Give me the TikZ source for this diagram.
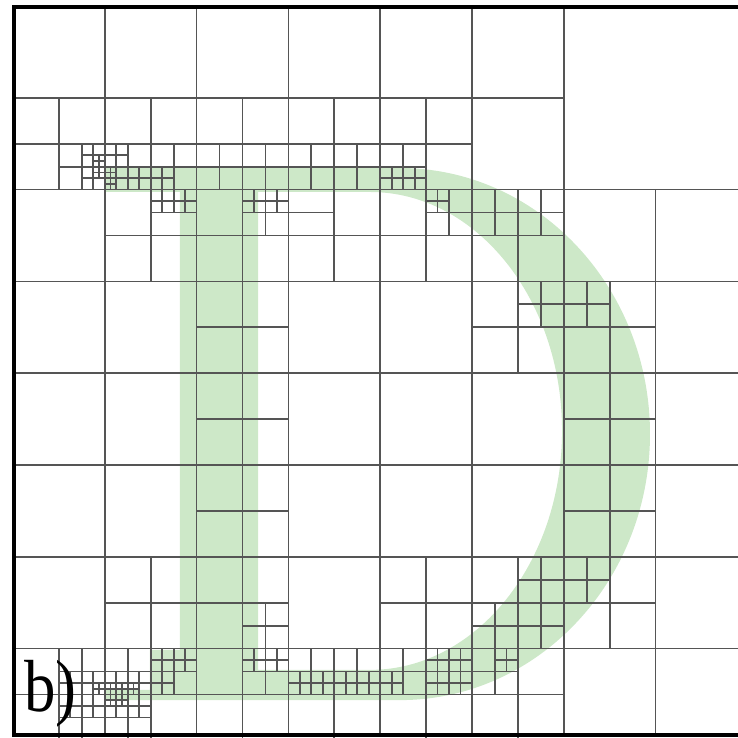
\documentclass[tikz,border=0pt]{standalone}
\usepackage{fontspec}
\setmainfont{Liberation Serif}
\definecolor{glyphgreen}{HTML}{CDE8C8}
\definecolor{cellline}{HTML}{555555}

\begin{document}
\begin{tikzpicture}[
  x=1.836cm, y=-1.836cm,
  cell/.style={draw=cellline, line width=1pt},
  glyph/.style={fill=glyphgreen, even odd rule},
  frame/.style={draw=black, line width=2.4pt},
  caption/.style={font=\fontsize{42}{42}\selectfont, inner sep=0pt, anchor=base west}
]
\useasboundingbox (-0.1416,-0.0654) rectangle (7.887,7.974);

% the letter D
\fill[glyph] (1.0,1.765) -- (4.216,1.765)
    arc[start angle=-90, end angle=90, x radius=2.723, y radius=2.898]
    -- (1.0,7.56) -- (1.0,7.45) -- (1.49,7.45) -- (1.49,7.015)
    -- (1.819,7.015) -- (1.819,2.026) -- (1.0,2.026) -- cycle
  (2.669,2.026) -- (3.889,2.026)
    arc[start angle=-90, end angle=90, x radius=2.092, y radius=2.603]
    -- (2.669,7.233) -- cycle;

% coarse grid, top right block left whole
\foreach \c in {1,...,6} \draw[cell] (\c,0) -- (\c,7.94);
\draw[cell] (7,2) -- (7,7.94);
\draw[cell] (0,1) -- (6,1);
\foreach \r in {2,...,7} \draw[cell] (0,\r) -- (8,\r);

% level 3 splits
\foreach \x/\y in {0/1,1/1,2/1,3/1,4/1, 1/2,2/2,3/2,4/2,5/2, 2/3,5/3,6/3,
    2/4,6/4, 2/5,6/5, 1/6,2/6,4/6,5/6,6/6, 0/7,1/7,2/7,3/7,4/7,5/7}
  \draw[cell] (\x+0.5,\y) -- ++(0,1) (\x,\y+0.5) -- ++(1,0);

% level 4 splits
\foreach \x/\y in {0.5/1.5,1/1.5,1.5/1.5,2/1.5,2.5/1.5,3/1.5,3.5/1.5,4/1.5,
    2.5/2,4.5/2,5/2,5.5/2, 5.5/3,6/3,
    5.5/6,6/6,2.5/6.5,5/6.5,5.5/6.5,
    0.5/7,0.5/7.5,1/7,1.5/7,1/7.5,2.5/7,3/7,3.5/7,4/7,4.5/7,5/7}
  \draw[cell] (\x+0.25,\y) -- ++(0,0.5) (\x,\y+0.25) -- ++(0.5,0);
\draw[cell] (1.5,2.25) -- (2,2.25) (1.75,2) -- (1.75,2.25);
\draw[cell] (3,2.25) -- (3.5,2.25);

% level 5 splits
\foreach \x/\y in {0.75/1.5,0.75/1.75,1/1.5,1/1.75,1.25/1.75,1.5/1.75,4/1.75,4.25/1.75,
    1.5/2,1.75/2,2.5/2,2.75/2,4.5/2,
    0.5/7.25,0.75/7.25,0.5/7.5,0.75/7.5,1/7.25,1.25/7.25,1/7.5,1.25/7.5,
    1.5/7,1.75/7,1.5/7.25,2.5/7,2.75/7,3/7.25,3.25/7.25,3.5/7.25,3.75/7.25,
    4/7.25,4.5/7,4.75/7,4.5/7.25,4.75/7.25,5.25/7}
  \draw[cell] (\x+0.125,\y) -- ++(0,0.25) (\x,\y+0.125) -- ++(0.25,0);

% level 6 splits
\foreach \x/\y in {0.875/1.625,0.875/1.75,1/1.75,1/1.875,
    0.875/7.375,1/7.375,1.125/7.375,1.25/7.375,1/7.5,1.125/7.5}
  \draw[cell] (\x+0.0625,\y) -- ++(0,0.125) (\x,\y+0.0625) -- ++(0.125,0);

% frame
\draw[frame] (8,0.011) -- (0.011,0.011) -- (0.011,7.94) -- (8,7.94);

\node[caption] (tag) at (0.12,7.69) {\scalebox{0.85}[1]{b)}};
\end{tikzpicture}
\end{document}
